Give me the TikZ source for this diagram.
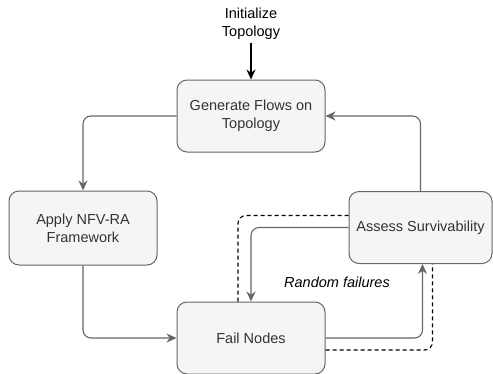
\documentclass[tikz,border=0pt]{standalone}
\usepackage{fontspec}
\setmainfont{Liberation Sans}
\usetikzlibrary{positioning,arrows.meta}

\definecolor{boxfill}{HTML}{F5F5F5}
\definecolor{boxline}{HTML}{666666}

\tikzset{
	stepbox/.style={draw=boxline,fill=boxfill,line width=1pt,rounded corners=10pt,
		minimum width=148pt,minimum height=72pt,align=center,text=black!80,
		font=\fontsize{14.5}{18}\selectfont},
	flow/.style={draw=boxline,line width=1.1pt,rounded corners=8pt,-{Stealth[length=10pt,width=9pt]}},
	dashline/.style={draw=black,line width=1.1pt,rounded corners=8pt,dash pattern=on 4pt off 3pt}
}

\begin{document}
\begin{tikzpicture}[x=1pt,y=-1pt]
			
			\useasboundingbox (0,0) rectangle (493,373);
			
			\node[align=center,font=\fontsize{14.5}{18}\selectfont] (init) at (251,24){Initialize\\Topology};
			
			\node[stepbox] (gen) at (251,116){Generate Flows on\\Topology};
			
			\node[stepbox,minimum height=74pt] (apply) at (83,228){Apply NFV-RA\\Framework};
			
			\node[stepbox] (fail) at (251,338){Fail Nodes};
			
			\node[stepbox,minimum width=143pt] (assess) at (420.5,227.5){Assess Survivability};
			
			\node[font=\fontsize{14.5}{18}\selectfont\itshape] (rand) at (337,282){Random failures};
			
			\draw[line width=1.1pt,-{Stealth[length=10pt,width=9pt]}](init.south)--(gen.north);
			
			\draw[flow](gen.west) -| (apply.north);
			\draw[flow](apply.south) |- (fail.west);
			\draw[flow](assess.north) |- (gen.east);
			\draw[flow](assess.west) -| (fail.north);
			\draw[flow](fail.east) -| ([xshift=2pt]assess.south);
			
			% dashed loop
			\draw[dashline]([yshift=12pt]assess.west) -| ([xshift=-13pt]fail.north);
			\draw[dashline]([yshift=-12pt]fail.east) -| ([xshift=12pt]assess.south);
			
		\end{tikzpicture}
\end{document}
